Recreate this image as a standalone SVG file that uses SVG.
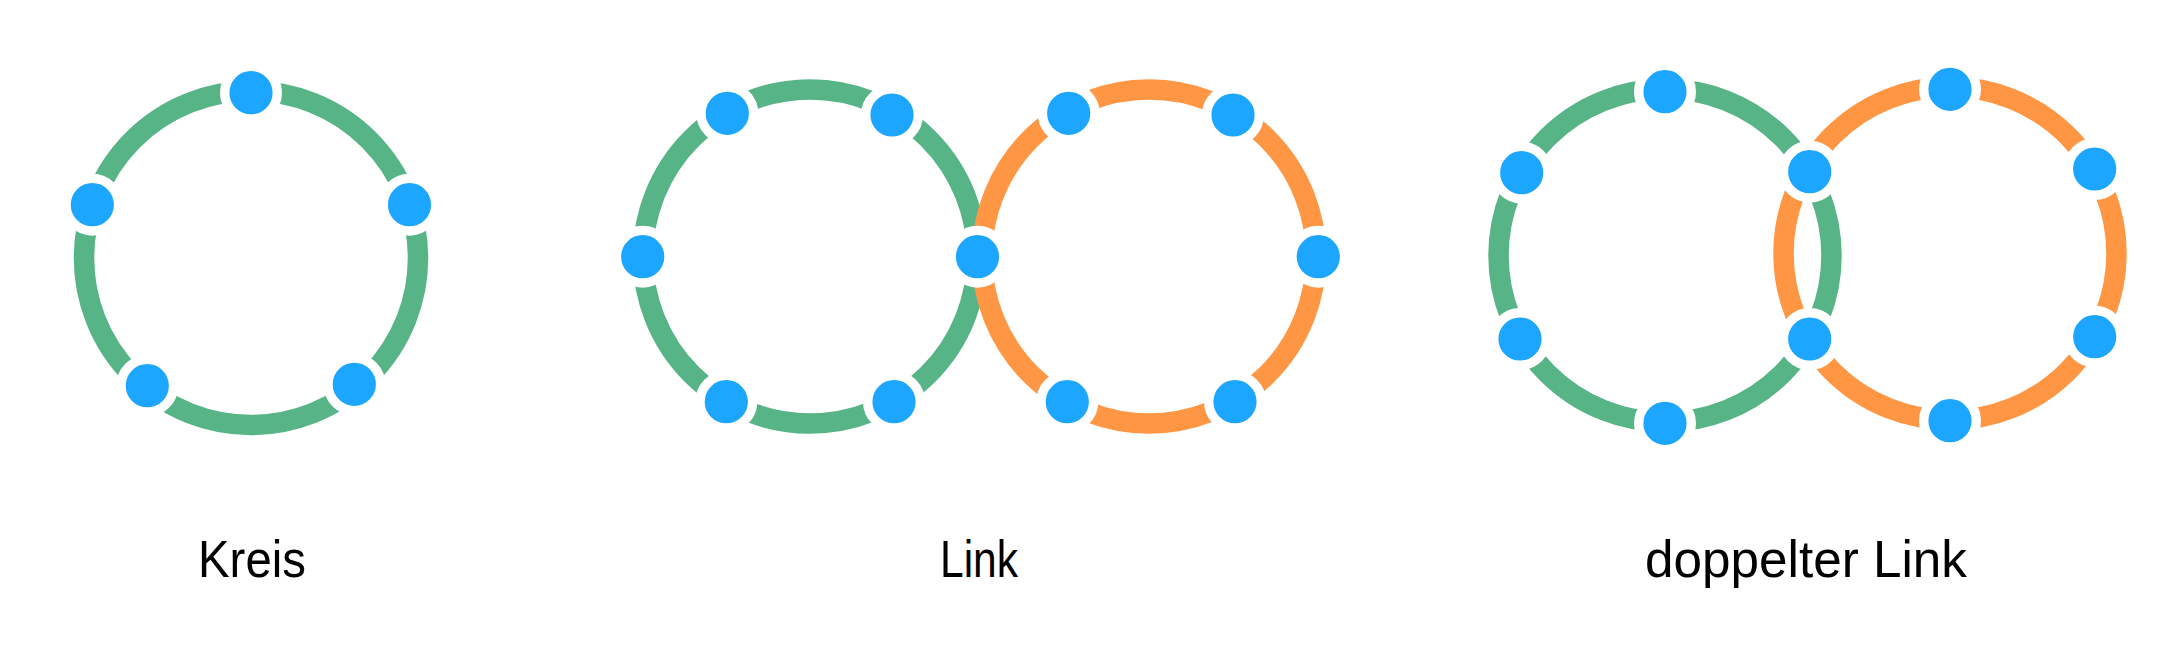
<svg xmlns="http://www.w3.org/2000/svg" width="2177" height="661" viewBox="0 0 2177 661">
<style>
.g{fill:none;stroke:#57B486;stroke-width:20.5}
.o{fill:none;stroke:#FF9643;stroke-width:20.5}
.n{fill:#1DA6FF;stroke:#FFFFFF;stroke-width:9.4}
.t{font-family:"Liberation Sans",Arial,sans-serif;font-size:52px;fill:#000;text-anchor:middle}
</style>
<rect width="2177" height="661" fill="#FFFFFF"/>
<g id="connectors">
<circle class="g" cx="251" cy="258" r="167"/>
<circle class="g" cx="810" cy="256.5" r="167"/>
<circle class="o" cx="1149" cy="256.5" r="167"/>
<circle class="g" cx="1665" cy="255.5" r="166.5"/>
<circle class="o" cx="1950" cy="253.5" r="166.5"/>
</g>
<g id="kreis-n1"><circle class="n" cx="251" cy="92.7" r="26.3"/></g>
<g id="kreis-n2"><circle class="n" cx="409.5" cy="204.7" r="26.3"/></g>
<g id="kreis-n3"><circle class="n" cx="354.3" cy="384.3" r="26.3"/></g>
<g id="kreis-n4"><circle class="n" cx="147.3" cy="385.7" r="26.3"/></g>
<g id="kreis-n5"><circle class="n" cx="92.3" cy="204.7" r="26.3"/></g>
<g id="link-n1"><circle class="n" cx="642.7" cy="256.7" r="26.3"/></g>
<g id="link-n2"><circle class="n" cx="727.3" cy="113.3" r="26.3"/></g>
<g id="link-n3"><circle class="n" cx="892" cy="115" r="26.3"/></g>
<g id="link-n4"><circle class="n" cx="977.5" cy="256.7" r="26.3"/></g>
<g id="link-n5"><circle class="n" cx="894" cy="401.7" r="26.3"/></g>
<g id="link-n6"><circle class="n" cx="726.3" cy="401.7" r="26.3"/></g>
<g id="link-n7"><circle class="n" cx="1068.7" cy="113.3" r="26.3"/></g>
<g id="link-n8"><circle class="n" cx="1233" cy="115" r="26.3"/></g>
<g id="link-n9"><circle class="n" cx="1318.3" cy="256.7" r="26.3"/></g>
<g id="link-n10"><circle class="n" cx="1235" cy="401.7" r="26.3"/></g>
<g id="link-n11"><circle class="n" cx="1067.3" cy="401.7" r="26.3"/></g>
<g id="dl-n1"><circle class="n" cx="1665" cy="91.7" r="26.3"/></g>
<g id="dl-n2"><circle class="n" cx="1521.7" cy="172.7" r="26.3"/></g>
<g id="dl-n3"><circle class="n" cx="1520" cy="339" r="26.3"/></g>
<g id="dl-n4"><circle class="n" cx="1665" cy="423.3" r="26.3"/></g>
<g id="dl-n5"><circle class="n" cx="1809.7" cy="171.7" r="26.3"/></g>
<g id="dl-n6"><circle class="n" cx="1809.7" cy="339" r="26.3"/></g>
<g id="dl-n7"><circle class="n" cx="1950" cy="89.3" r="26.3"/></g>
<g id="dl-n8"><circle class="n" cx="2094.7" cy="169" r="26.3"/></g>
<g id="dl-n9"><circle class="n" cx="2094.7" cy="336.7" r="26.3"/></g>
<g id="dl-n10"><circle class="n" cx="1950" cy="420.7" r="26.3"/></g>
<g id="labels">
<text class="t" x="252" y="577" textLength="108" lengthAdjust="spacingAndGlyphs">Kreis</text>
<text class="t" x="979" y="577" textLength="78" lengthAdjust="spacingAndGlyphs">Link</text>
<text class="t" x="1806" y="577" textLength="322" lengthAdjust="spacingAndGlyphs">doppelter Link</text>
</g>
</svg>
